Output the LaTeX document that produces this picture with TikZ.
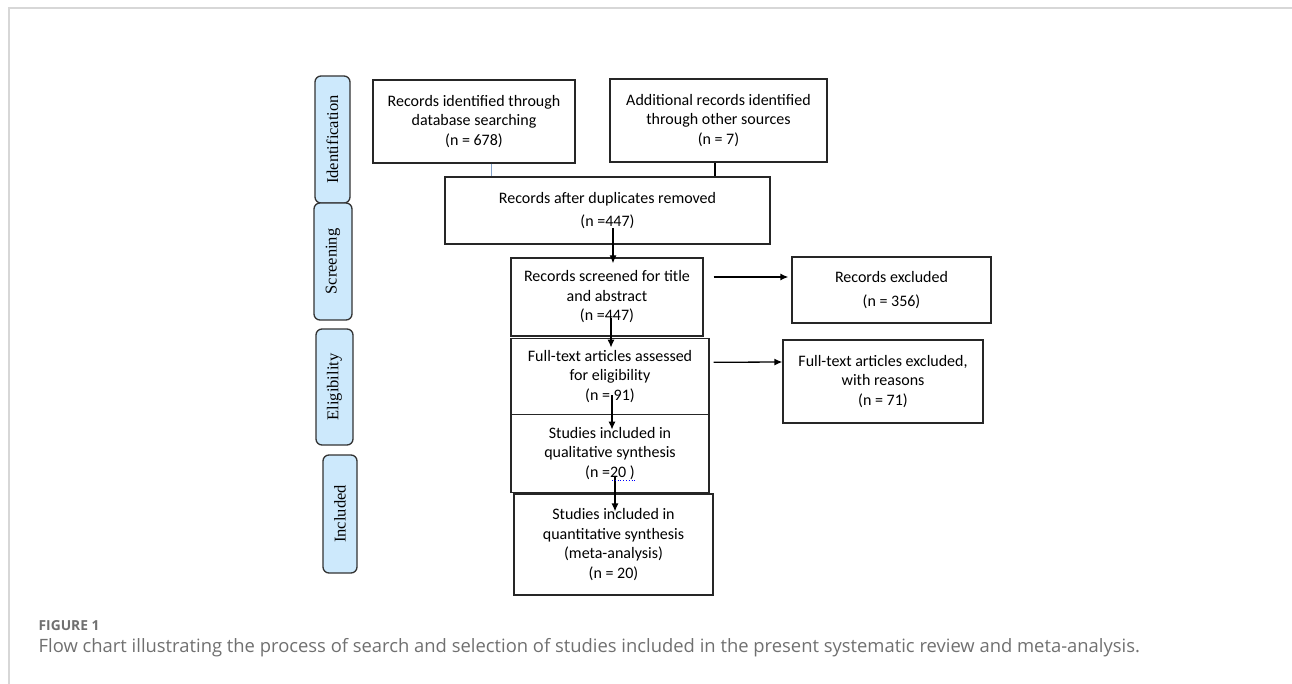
\documentclass[tikz,border=0pt]{standalone}
\usepackage{fontspec}
\setmainfont{Carlito}
\newfontfamily\tabfont{Liberation Serif}
\newfontfamily\capfont{Open Sans}
\usetikzlibrary{positioning,arrows.meta}
\definecolor{tabblue}{RGB}{205,233,252}
\definecolor{framegray}{RGB}{215,215,215}
\definecolor{capgray}{RGB}{112,112,112}
\definecolor{linkblue}{RGB}{130,160,200}

\begin{document}
\begin{tikzpicture}[
    x=1pt, y=-1pt,
    >={Latex[length=8pt,width=7pt]}, line width=1.3pt,
    box/.style={
        rectangle, draw=black!85, fill=white, align=center,
        font=\fontsize{16}{19.5}\selectfont, inner sep=2pt
    },
    % rotated phase labels on the left
    phase/.style={
        rectangle, draw=black!80, rounded corners=6pt, fill=tabblue,
        rotate=90, font=\tabfont\fontsize{16.5}{19}\selectfont, inner sep=1pt
    },
    caption/.style={anchor=base west, text=capgray, inner sep=0pt}
]
    \useasboundingbox (0,0) rectangle (1292,684);

    % --- page frame ---
    \draw[framegray, line width=1.5pt] (9,684) -- (9,8) -- (1292,8);

    % --- PHASE LABELS ---
    \node[phase, minimum width=127pt, minimum height=35pt] (TabIdent) at (332.5,139.5) {Identification};
    \node[phase, minimum width=117pt, minimum height=38pt] (TabScreen) at (333,261.5) {Screening};
    \node[phase, minimum width=116pt, minimum height=37pt] (TabElig) at (334.5,387) {Eligibility};
    \node[phase, minimum width=118pt, minimum height=34pt] (TabIncl) at (340,514) {Included};

    % --- IDENTIFICATION ---
    \node[box, minimum width=202pt, minimum height=83pt] (DbSearch) at (474,121.5) {Records identified through\\database searching\\(n = 678)};
    \node[box, minimum width=217pt, minimum height=83pt] (OtherSrc) at (718.5,120.5) {Additional records identified\\through other sources\\(n = 7)};
    \node[box, minimum width=325pt, minimum height=67pt] (Dedup) at (607.5,210.5) {Records after duplicates removed\\[4pt](n =447)};

    % --- SCREENING ---
    \node[box, minimum width=192pt, minimum height=78pt] (Screened) at (607,297) {Records screened for title\\and abstract\\(n =447)};
    \node[box, minimum width=199pt, minimum height=66pt] (RecExcl) at (891.5,290) {Records excluded\\[5pt](n = 356)};

    % --- ELIGIBILITY ---
    \node[box, minimum width=198pt, minimum height=76pt] (FullText) [below=1pt of Screened, xshift=3pt] {Full-text articles assessed\\for eligibility\\(n = 91)};
    \node[box, minimum width=200pt, minimum height=83pt] (FullExcl) at (883,381.5) {Full-text articles excluded,\\with reasons\\(n = 71)};

    % --- INCLUDED ---
    \node[box, minimum width=198pt, minimum height=78pt] (Qualit) [below=-1.3pt of FullText] {Studies included in\\qualitative synthesis\\(n =20 )};
    \node[box, minimum width=199pt, minimum height=101pt] (Quantit) [below=0.5pt of Qualit, xshift=3.5pt] {Studies included in\\quantitative synthesis\\(meta-analysis)\\(n = 20)};

    % --- EDGES ---
    \draw[linkblue, line width=1pt] ([xshift=17pt]DbSearch.south) -- ([xshift=17pt]DbSearch.south |- Dedup.north);
    \draw ([xshift=-3.5pt]OtherSrc.south) -- ([xshift=-3.5pt]OtherSrc.south |- Dedup.north);

    \draw[->] ([xshift=5.5pt,yshift=-17.5pt]Dedup.center) -- ([xshift=6pt,yshift=-6pt]Screened.north);
    \draw[->] ([xshift=4pt,yshift=-21pt]Screened.center) -- ([xshift=1pt,yshift=-10pt]FullText.north);
    \draw[->] ([xshift=2pt,yshift=-19pt]FullText.center) -- ([xshift=2pt,yshift=-16pt]Qualit.north);
    \draw[->] ([xshift=5pt,yshift=-24pt]Qualit.center) -- ([xshift=1.5pt,yshift=-18pt]Quantit.north);

    % exclusions to the right
    \draw[->] ([xshift=10pt,yshift=20pt]Screened.east) -- ([xshift=-3pt,yshift=13pt]RecExcl.west);
    \draw[->] ([xshift=4pt,yshift=14pt]FullText.east) -- ([yshift=19.5pt]FullExcl.west);

    % spell-check mark under "20 "
    \draw[blue, line width=0.8pt, dotted] ([xshift=2pt,yshift=-27pt]Qualit.center) -- ([xshift=27pt,yshift=-27pt]Qualit.center);

    % --- CAPTION ---
    \node[caption, font=\capfont\bfseries\fontsize{13.8}{15}\selectfont] (FigLabel) at (38,630) {FIGURE 1};
    \node[caption, font=\capfont\fontsize{18.4}{20}\selectfont] (FigText) at (38,652) {Flow chart illustrating the process of search and selection of studies included in the present systematic review and meta-analysis.};

\end{tikzpicture}
\end{document}
